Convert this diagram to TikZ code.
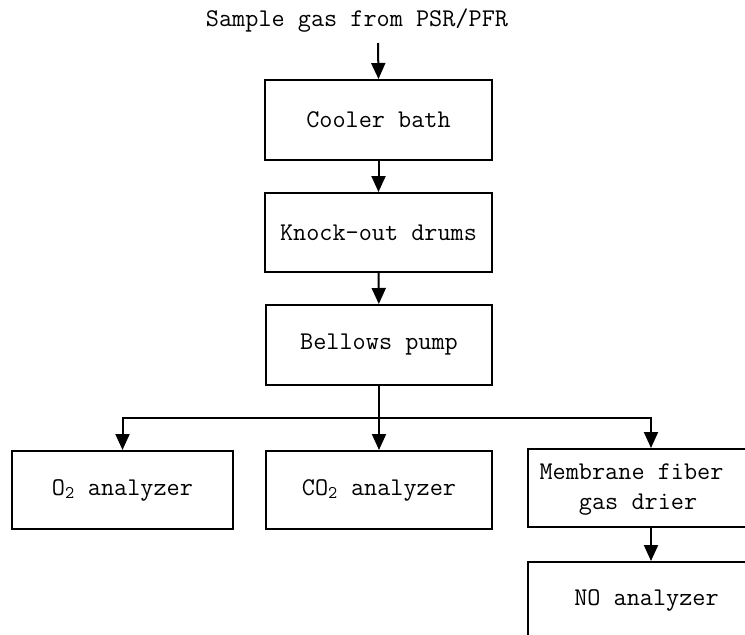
\documentclass[tikz,border=0pt]{standalone}
\usetikzlibrary{arrows.meta}
\begin{document}
\begin{tikzpicture}[x=1pt,y=-1pt,
  every node/.style={font=\fontsize{25.5}{30}\selectfont\ttfamily},
  unit/.style={draw,line width=2pt,inner sep=0pt,align=center},
  flow/.style={line width=2pt,-{Triangle[width=14pt,length=16pt]}}]
  \useasboundingbox (0,0) rectangle (745,635);
  \clip (0,0) rectangle (745,635);
  % source label
  \node (src) at (357,21) {Sample gas from PSR/PFR};
  \coordinate (srcend) at (378,43);
  % main train
  \node[unit,minimum width=227pt,minimum height=80pt] (cool) at (378.5,120) {Cooler bath};
  \node[unit,minimum width=227pt,minimum height=79pt] (ko) at (378.5,232.5) {Knock-out drums};
  \node[unit,minimum width=226pt,minimum height=80pt] (pump) at (379,345) {Bellows pump};
  % analyzers
  \node[unit,minimum width=221pt,minimum height=78pt] (o2) at (122.5,490) {O\textsubscript{2} analyzer};
  \node[unit,minimum width=226pt,minimum height=78pt] (co2) at (379,490) {CO\textsubscript{2} analyzer};
  \node[unit,minimum width=246pt,minimum height=78pt] (mem) at (651,488) {};
  \node[align=left,inner sep=0pt] (memlab) at (631.5,490) {Membrane fiber\\\phantom{Mem}gas drier};
  \node[unit,minimum width=246pt,minimum height=78pt] (no) at (651,601) {};
  \node (nolab) at (646.5,600) {NO analyzer};
  % connectors
  \coordinate (split) at (pump.south |- 0,418);
  \draw[flow] (srcend) -- (cool.north);
  \draw[flow] (cool) -- (ko);
  \draw[flow] (ko) -- (pump);
  \draw[flow] (pump) -- (co2);
  \draw[flow] (split) -| (o2.north);
  \draw[flow] (split) -| (mem.north);
  \draw[flow] (mem) -- (no);
\end{tikzpicture}
\end{document}
